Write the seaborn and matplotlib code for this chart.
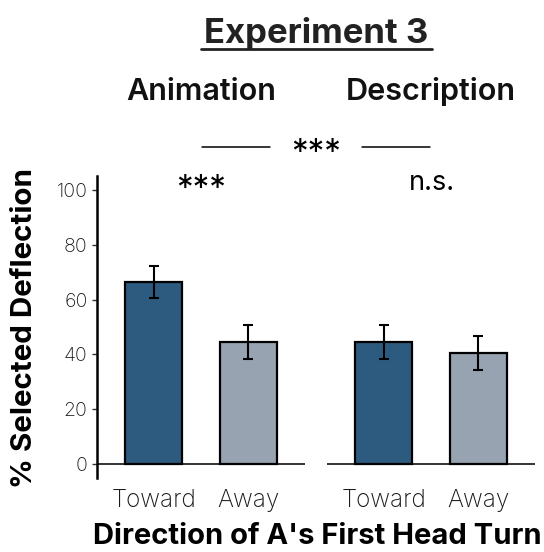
import matplotlib
matplotlib.use("Agg")
import matplotlib.pyplot as plt
from matplotlib.lines import Line2D
import seaborn as sns
import pandas as pd

# Experiment 3 summary: percent choosing the deflection, with SE
conditions = ["Animation", "Description"]
directions = ["Toward", "Away"]
pct_animation = [66.4, 44.4]
se_animation = [5.8, 6.2]
pct_description = [44.4, 40.4]
se_description = [6.2, 6.2]
within_labels = ["***", "n.s."]
between_label = "***"
yticks = [0, 20, 40, 60, 80, 100]

palette = {"Toward": "#2D5A7F", "Away": "#97A3B0"}

sns.set_theme(style="white")
plt.rcParams["font.family"] = ["Inter", "DejaVu Sans"]

fig = plt.figure(figsize=(5.44, 5.52), dpi=100)
W, H = 544, 552

def fx(px):
    return px / W

def fy(py):
    return 1 - py / H

ax_bottom = fy(478)
ax_height = fy(176) - fy(478)
ax_w = 208.3 / W
axes = [fig.add_axes([fx(96.7), ax_bottom, ax_w, ax_height]),
        fig.add_axes([fx(326.7), ax_bottom, ax_w, ax_height])]

panels = [(pct_animation, se_animation), (pct_description, se_description)]

for i, (ax, (vals, ses)) in enumerate(zip(axes, panels)):
    df = pd.DataFrame({"direction": directions, "pct": vals, "se": ses})
    sns.barplot(data=df, x="direction", y="pct", hue="direction",
                palette=palette, order=directions, hue_order=directions,
                saturation=1, width=0.6, edgecolor="black", linewidth=1.6,
                errorbar=None, legend=False, ax=ax)
    ax.errorbar(range(len(directions)), df["pct"], yerr=df["se"], fmt="none",
                ecolor="black", elinewidth=1.5, capsize=3.3, capthick=1.5,
                zorder=5)
    ax.axhline(0, color="#333333", lw=1.4, zorder=0.5)
    ax.set_xlim(-0.6, 1.6)
    ax.set_ylim(-5, 105)
    ax.set_xlabel("")
    ax.set_ylabel("")
    for s in ["top", "right", "bottom"]:
        ax.spines[s].set_visible(False)
    ax.tick_params(axis="x", length=0, pad=8, labelsize=17.5,
                   labelcolor="#1a1a1a")
    for lab in ax.get_xticklabels():
        lab.set_fontweight("light")
    if i == 0:
        ax.spines["left"].set_color("black")
        ax.spines["left"].set_linewidth(1.8)
        ax.set_yticks(yticks)
        ax.set_yticklabels([str(t) for t in yticks], fontweight="light")
        ax.tick_params(axis="y", left=True, length=3.5, width=1,
                       color="#333333", pad=3, labelsize=14,
                       labelcolor="#1a1a1a")
    else:
        ax.spines["left"].set_visible(False)
        ax.set_yticks([])
    ax.grid(False)
    ax.set_facecolor("none")

# Title with underline
fig.text(fx(316), fy(34), "Experiment 3", ha="center", va="center",
         fontsize=25, fontweight="bold", color="#222222")
fig.add_artist(Line2D([fx(201), fx(432)], [fy(48.5), fy(48.5)],
                      color="#222222", lw=2))

# Panel headers
fig.text(fx(201), fy(92), conditions[0], ha="center", va="center",
         fontsize=22, fontweight="semibold", color="#111111")
fig.text(fx(431), fy(92), conditions[1], ha="center", va="center",
         fontsize=22, fontweight="semibold", color="#111111")

# Between-condition comparison
fig.add_artist(Line2D([fx(202), fx(270)], [fy(147), fy(147)],
                      color="black", lw=1.1))
fig.add_artist(Line2D([fx(362), fx(430)], [fy(147), fy(147)],
                      color="black", lw=1.1))
fig.text(fx(316), fy(154), between_label, ha="center", va="center",
         fontsize=24, color="black")

# Within-condition comparisons
fig.text(fx(201), fy(190.5), within_labels[0], ha="center", va="center",
         fontsize=24, color="black")
fig.text(fx(432), fy(183), within_labels[1], ha="center", va="center",
         fontsize=19.5, color="black")

# Axis titles
fig.text(fx(317), fy(537), "Direction of A's First Head Turn", ha="center",
         va="center", fontsize=21, fontweight="bold", color="black")
fig.text(fx(25), fy(328), "% Selected Deflection", ha="center", va="center",
         rotation=90, fontsize=21.3, fontweight="bold", color="black")

fig.savefig("out.png", dpi=100, facecolor="white")
